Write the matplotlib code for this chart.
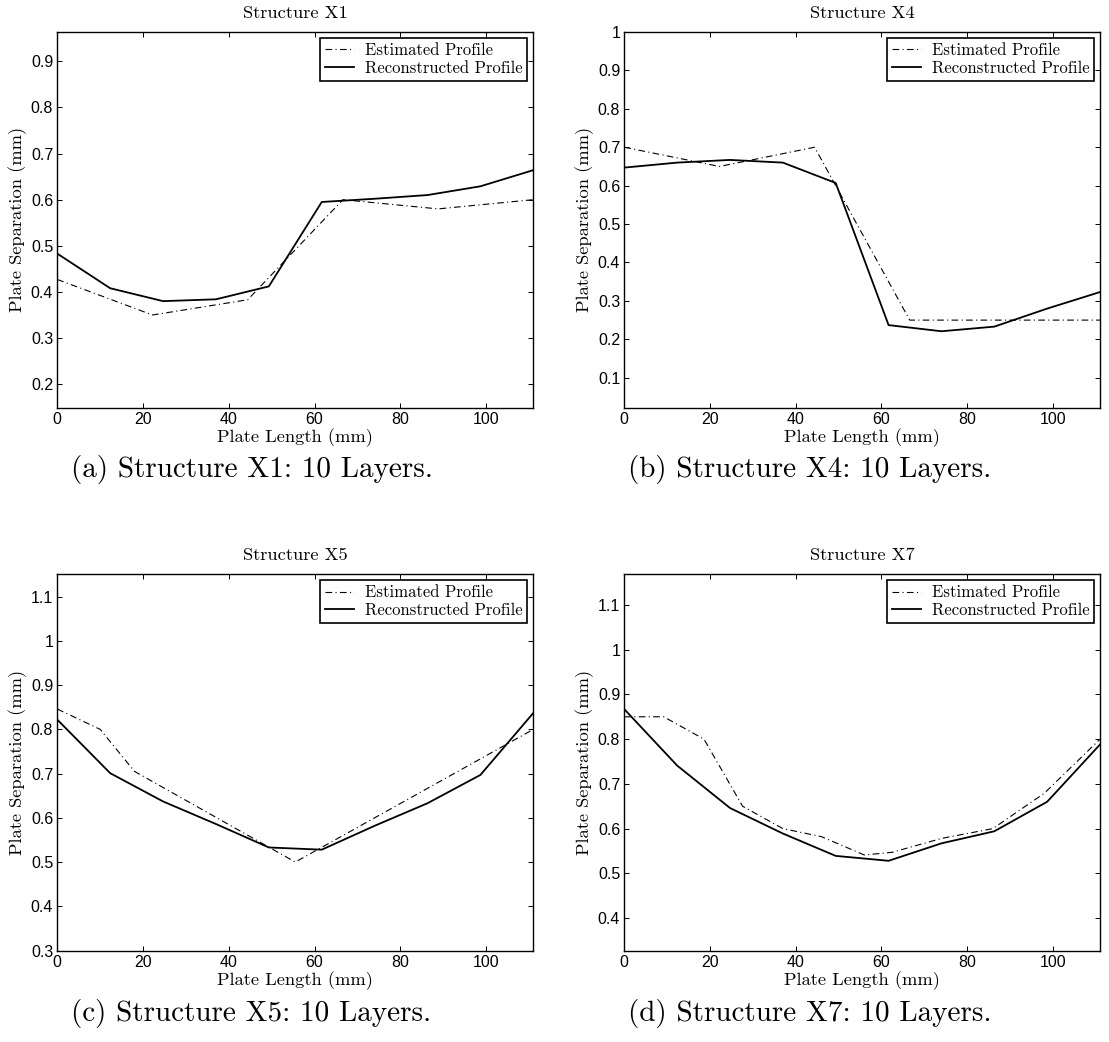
import matplotlib
matplotlib.use("Agg")
import matplotlib.pyplot as plt
from matplotlib.ticker import FuncFormatter

# ---------------- data ----------------
x_rec = [0, 12.33, 24.67, 37, 49.33, 61.67, 74, 86.33, 98.67, 111]

x1_est_x = [0, 22.2, 44.4, 66.6, 88.8, 111]
x1_est_y = [0.427, 0.350, 0.383, 0.600, 0.580, 0.600]
x1_rec_y = [0.483, 0.408, 0.380, 0.384, 0.412, 0.595, 0.602, 0.610, 0.629, 0.664]

x4_est_x = [0, 22.2, 44.4, 66.6, 88.8, 111]
x4_est_y = [0.700, 0.650, 0.700, 0.250, 0.250, 0.250]
x4_rec_y = [0.647, 0.660, 0.667, 0.660, 0.607, 0.237, 0.221, 0.233, 0.280, 0.323]

x5_est_x = [0, 10, 18, 55.5, 111]
x5_est_y = [0.846, 0.800, 0.705, 0.500, 0.800]
x5_rec_y = [0.822, 0.701, 0.637, 0.586, 0.533, 0.528, 0.582, 0.633, 0.697, 0.837]

x7_est_x = [0, 9.2, 18.6, 27.6, 37, 46, 56, 62.5, 74, 86, 98, 111]
x7_est_y = [0.850, 0.850, 0.800, 0.650, 0.600, 0.582, 0.541, 0.547, 0.578, 0.600, 0.679, 0.800]
x7_rec_y = [0.867, 0.741, 0.646, 0.589, 0.539, 0.528, 0.567, 0.594, 0.660, 0.788]

titles = ["Structure X1", "Structure X4", "Structure X5", "Structure X7"]
captions = ["(a) Structure X1: 10 Layers.", "(b) Structure X4: 10 Layers.",
            "(c) Structure X5: 10 Layers.", "(d) Structure X7: 10 Layers."]
ylims = [(0.149, 0.9635), (0.022, 1.0), (0.2996, 1.1506), (0.327, 1.1686)]
yticks = [[0.2, 0.3, 0.4, 0.5, 0.6, 0.7, 0.8, 0.9],
          [0.1, 0.2, 0.3, 0.4, 0.5, 0.6, 0.7, 0.8, 0.9, 1.0],
          [0.3, 0.4, 0.5, 0.6, 0.7, 0.8, 0.9, 1.0, 1.1],
          [0.4, 0.5, 0.6, 0.7, 0.8, 0.9, 1.0, 1.1]]
xticks = [0, 20, 40, 60, 80, 100]

series = [(x1_est_x, x1_est_y, x1_rec_y),
          (x4_est_x, x4_est_y, x4_rec_y),
          (x5_est_x, x5_est_y, x5_rec_y),
          (x7_est_x, x7_est_y, x7_rec_y)]

# ---------------- layout ----------------
W, H = 1109, 1042
fig = plt.figure(figsize=(W / 100, H / 100), dpi=100)

# axes boxes in pixels: left, top, right, bottom
boxes = [(57.3, 32.0, 533.3, 407.7),
         (624.3, 32.0, 1100.0, 407.7),
         (57.3, 574.3, 533.3, 950.7),
         (624.3, 574.3, 1100.0, 950.7)]
cap_pos = [(251.5, 470), (810, 470), (251.5, 1013), (810, 1013)]

serif = "cmr10"
tickfont = "Liberation Sans"

fmt = FuncFormatter(lambda v, p: ("%g" % round(v, 3)))

for i, (l, t, r, b) in enumerate(boxes):
    ax = fig.add_axes([l / W, 1 - b / H, (r - l) / W, (b - t) / H])
    ex, ey, ry = series[i]
    ax.plot(ex, ey, color="black", lw=0.8, linestyle=(0, (6, 3, 1, 3)),
            label="Estimated Profile")
    ax.plot(x_rec, ry, color="black", lw=1.3, linestyle="-",
            label="Reconstructed Profile")
    ax.set_xlim(0, 111)
    ax.set_ylim(*ylims[i])
    ax.set_xticks(xticks)
    ax.set_yticks(yticks[i])
    ax.yaxis.set_major_formatter(fmt)
    ax.tick_params(direction="in", length=3.6, width=0.7, top=True, right=True,
                   labelsize=11.5, pad=3)
    for lab in ax.get_xticklabels() + ax.get_yticklabels():
        lab.set_fontfamily(tickfont)
    for s in ax.spines.values():
        s.set_linewidth(1.0)
    ax.set_title(titles[i], fontfamily=serif, fontsize=13.3, pad=10)
    ax.set_xlabel("Plate Length (mm)", fontfamily=serif, fontsize=13.3)
    ax.set_ylabel("Plate Separation (mm)", fontfamily=serif, fontsize=13.3,
                  va="center")
    ax.xaxis.set_label_coords(0.5, -20.5 / (b - t))
    ax.yaxis.set_label_coords(-40 / (r - l), 0.5)
    leg = ax.legend(loc="upper right", prop={"family": serif, "size": 12},
                    fancybox=False, framealpha=1, edgecolor="black",
                    handlelength=1.72, handletextpad=0.66, borderpad=0.3,
                    labelspacing=0.15, borderaxespad=0.35)
    leg.get_frame().set_linewidth(1.2)

    cx, cy = cap_pos[i]
    fig.text(cx / W, 1 - cy / H, captions[i], fontfamily=serif, fontsize=21,
             ha="center", va="center")

fig.savefig("out.png", dpi=100)
